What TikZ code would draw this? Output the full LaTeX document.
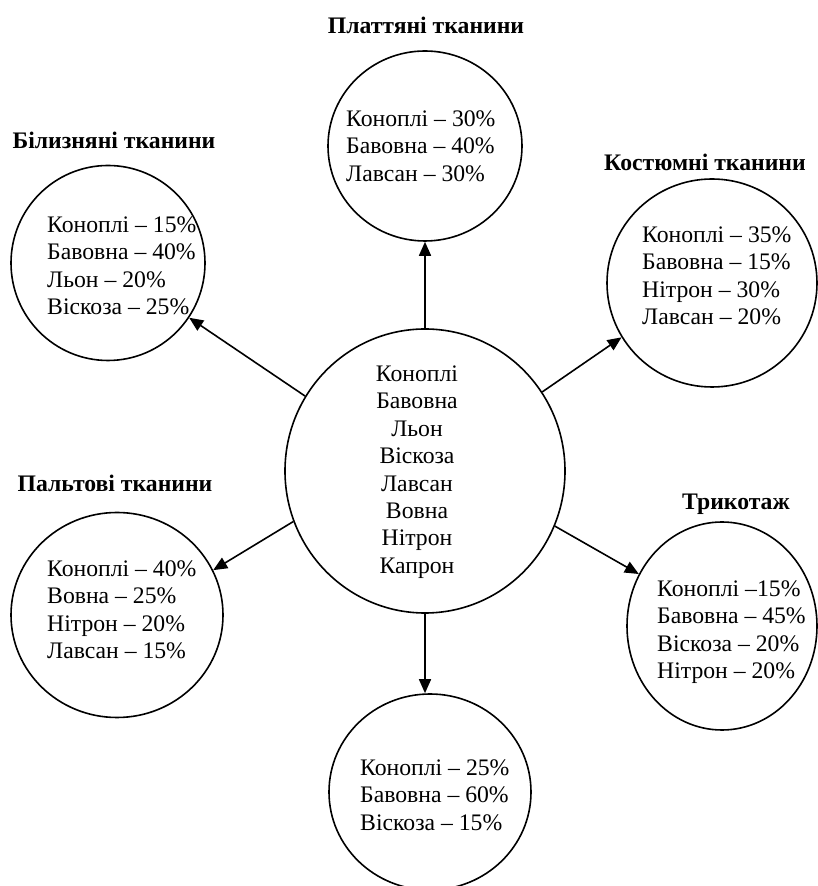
\documentclass[tikz,border=0pt]{standalone}
\usepackage{fontspec}
\setmainfont{Liberation Serif}
\usetikzlibrary{shapes.geometric,arrows.meta}
\tikzset{
  tkan/.style={draw, ellipse, line width=1.6pt, inner sep=0pt},
  sklad/.style={inner sep=0pt, align=left, anchor=west, font=\fontsize{23.7}{27.5}\selectfont},
  nazva/.style={inner sep=0pt, font=\fontsize{23.7}{26}\selectfont\bfseries},
  strilka/.style={line width=1.6pt, -{Triangle[length=14pt,width=12pt]}}
}
\begin{document}
\begin{tikzpicture}[x=1pt,y=1pt]
            \useasboundingbox (0,0) rectangle (817,886);
            % центральне коло: волокна
            \node[tkan, minimum width=280pt, minimum height=284pt] (cen) at (425,415) {};
            \node[inner sep=0pt, align=center, font=\fontsize{23.7}{27.4}\selectfont] (centxt) at (417,414)
                {Коноплі\\Бавовна\\Льон\\Віскоза\\Лавсан\\Вовна\\Нітрон\\Капрон};
            % види тканин
            \node[tkan, minimum width=194pt, minimum height=190pt] (platt) at (425,740) {};
            \node[tkan, minimum width=194pt, minimum height=195pt] (bilyz) at (108,623) {};
            \node[tkan, minimum width=210pt, minimum height=208pt] (kost) at (712,603) {};
            \node[tkan, minimum width=212pt, minimum height=205pt] (palt) at (117,271) {};
            \node[tkan, minimum width=190pt, minimum height=208pt] (tryk) at (722,260) {};
            \node[tkan, minimum width=202pt, minimum height=196pt] (niz) at (430,94) {};
            % склад
            \node[sklad] (plattxt) at (346,740) {Коноплі -- 30\%\\Бавовна -- 40\%\\Лавсан -- 30\%};
            \node[sklad] (bilyztxt) at (47,620) {Коноплі -- 15\%\\Бавовна -- 40\%\\Льон -- 20\%\\Віскоза -- 25\%};
            \node[sklad] (kosttxt) at (642,610) {Коноплі -- 35\%\\Бавовна -- 15\%\\Нітрон -- 30\%\\Лавсан -- 20\%};
            \node[sklad] (palttxt) at (47,276) {Коноплі -- 40\%\\Вовна -- 25\%\\Нітрон -- 20\%\\Лавсан -- 15\%};
            \node[sklad] (ryktxt) at (657,254) {Коноплі --15\%\\Бавовна -- 45\%\\Віскоза -- 20\%\\Нітрон -- 20\%};
            \node[sklad] (niztxt) at (360,91) {Коноплі -- 25\%\\Бавовна -- 60\%\\Віскоза -- 15\%};
            % назви
            \node[nazva] (plattnaz) at (426,861) {Платтяні тканини};
            \node[nazva] (bilyznaz) at (114,746) {Білизняні тканини};
            \node[nazva] (kostnaz) at (705,724) {Костюмні тканини};
            \node[nazva] (paltnaz) at (115,403) {Пальтові тканини};
            \node[nazva] (tryknaz) at (736,382) {Трикотаж};
            % стрілки
            \draw[strilka] (cen.90) -- (platt.270);
            \draw[strilka] (cen.148.5) -- (bilyz.326.6);
            \draw[strilka] (cen.34.7) -- (kost.211.8);
            \draw[strilka] (cen.201.6) -- (palt.25);
            \draw[strilka] (cen.-23) -- (tryk.148);
            \draw[strilka] (cen.270) -- (cen.270 |- niz.north);
\end{tikzpicture}
\end{document}
